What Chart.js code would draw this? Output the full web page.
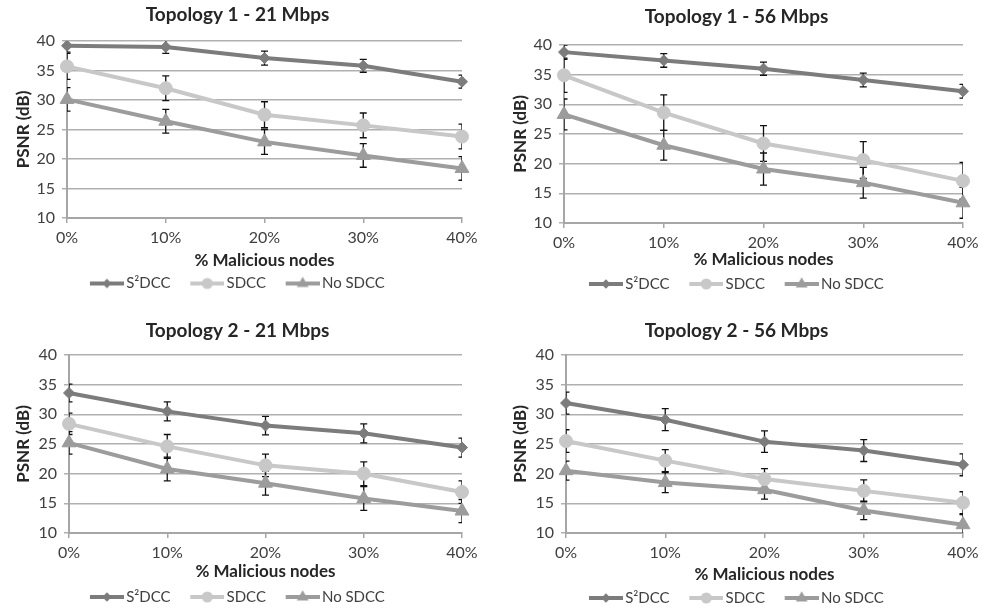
<!DOCTYPE html>
<html>
<head>
<meta charset="utf-8">
<script src="https://cdn.jsdelivr.net/npm/chart.js@4.4.1/dist/chart.umd.min.js"></script>
<style>
    html, body { margin: 0; padding: 0; background: #fff; overflow: hidden; width: 993px; height: 609px; }
    .panel { position: absolute; }
</style>
</head>
<body>
<div class="panel" style="left:0px;top:0px;width:496px;height:304px"><canvas id="c1"></canvas></div>
<div class="panel" style="left:497px;top:0px;width:496px;height:304px"><canvas id="c2"></canvas></div>
<div class="panel" style="left:0px;top:304px;width:496px;height:320px"><canvas id="c3"></canvas></div>
<div class="panel" style="left:497px;top:304px;width:496px;height:320px"><canvas id="c4"></canvas></div>
<script>
const xLabels = ['0%', '10%', '20%', '30%', '40%'];
const seriesNames = ['S²DCC', 'SDCC', 'No SDCC'];

// Topology 1 - 21 Mbps
const t1r21S2dcc = [39.2, 39.0, 37.1, 35.8, 33.1];
const t1r21S2dccErr = [1.1, 1.1, 1.2, 1.1, 1.1];
const t1r21Sdcc = [35.7, 32.0, 27.5, 25.7, 23.8];
const t1r21SdccErr = [2.2, 2.1, 2.2, 2.1, 2.1];
const t1r21NoSdcc = [30.1, 26.4, 22.9, 20.6, 18.4];
const t1r21NoSdccErr = [2.0, 2.0, 2.1, 2.0, 2.0];

// Topology 1 - 56 Mbps
const t1r56S2dcc = [38.8, 37.4, 36.0, 34.1, 32.2];
const t1r56S2dccErr = [1.2, 1.15, 1.1, 1.15, 1.15];
const t1r56Sdcc = [34.9, 28.6, 23.4, 20.6, 17.1];
const t1r56SdccErr = [2.9, 3.0, 3.0, 3.1, 3.1];
const t1r56NoSdcc = [28.3, 23.1, 19.1, 16.8, 13.4];
const t1r56NoSdccErr = [2.6, 2.5, 2.7, 2.6, 2.6];

// Topology 2 - 21 Mbps
const t2r21S2dcc = [33.6, 30.5, 28.1, 26.8, 24.4];
const t2r21S2dccErr = [1.5, 1.6, 1.55, 1.6, 1.6];
const t2r21Sdcc = [28.4, 24.6, 21.4, 20.0, 16.9];
const t2r21SdccErr = [1.8, 2.0, 1.9, 2.0, 1.9];
const t2r21NoSdcc = [25.2, 20.8, 18.4, 15.8, 13.7];
const t2r21NoSdccErr = [1.9, 2.0, 2.0, 2.0, 1.95];

// Topology 2 - 56 Mbps
const t2r56S2dcc = [31.9, 29.1, 25.4, 23.9, 21.5];
const t2r56S2dccErr = [1.85, 1.85, 1.8, 1.85, 1.85];
const t2r56Sdcc = [25.5, 22.2, 19.1, 17.1, 15.1];
const t2r56SdccErr = [1.9, 1.85, 1.75, 1.85, 1.85];
const t2r56NoSdcc = [20.5, 18.5, 17.3, 13.8, 11.4];
const t2r56NoSdccErr = [1.6, 1.7, 1.6, 1.55, 1.7];

const seriesColors = ['#7c7c7c', '#c8c8c8', '#9c9c9c'];
const seriesMarkers = ['rectRot', 'circle', 'triangle'];
const markerSizes = [5.5, 6.5, 8];

Chart.defaults.font.family = "Lato, 'Liberation Sans', sans-serif";

const panels = [
    {
        id: 'c1', title: 'Topology 1 - 21 Mbps',
        values: [t1r21S2dcc, t1r21Sdcc, t1r21NoSdcc],
        errors: [t1r21S2dccErr, t1r21SdccErr, t1r21NoSdccErr],
        frame: { w: 496, h: 304, titleY: 15, top: 41, bottom: 218, left: 67, right: 462, xTitleY: 261, legendY: 283.5 }
    },
    {
        id: 'c2', title: 'Topology 1 - 56 Mbps',
        values: [t1r56S2dcc, t1r56Sdcc, t1r56NoSdcc],
        errors: [t1r56S2dccErr, t1r56SdccErr, t1r56NoSdccErr],
        frame: { w: 496, h: 304, titleY: 17, top: 45, bottom: 223, left: 67, right: 466, xTitleY: 260, legendY: 284 }
    },
    {
        id: 'c3', title: 'Topology 2 - 21 Mbps',
        values: [t2r21S2dcc, t2r21Sdcc, t2r21NoSdcc],
        errors: [t2r21S2dccErr, t2r21SdccErr, t2r21NoSdccErr],
        frame: { w: 496, h: 320, titleY: 27, top: 51, bottom: 229, left: 69, right: 462, xTitleY: 268, legendY: 293 }
    },
    {
        id: 'c4', title: 'Topology 2 - 56 Mbps',
        values: [t2r56S2dcc, t2r56Sdcc, t2r56NoSdcc],
        errors: [t2r56S2dccErr, t2r56SdccErr, t2r56NoSdccErr],
        frame: { w: 496, h: 320, titleY: 27, top: 51, bottom: 229, left: 69, right: 466, xTitleY: 271, legendY: 294 }
    }
];

// legend swatch: line with the marker in the middle, like Excel.
// the canvas is wider than the box so the line runs right up to the label
const legendPad = 20;
const legendBoxWidth = 28.5;
function makeIcon(color, marker, size) {
    const c = document.createElement('canvas');
    c.width = legendBoxWidth + 11;
    c.height = 18;
    const ctx = c.getContext('2d');
    const x1 = c.width - 34, x2 = c.width, cy = 9, cx = (x1 + x2) / 2;
    ctx.strokeStyle = color;
    ctx.fillStyle = color;
    ctx.lineWidth = 4;
    ctx.beginPath();
    ctx.moveTo(x1, cy);
    ctx.lineTo(x2, cy);
    ctx.stroke();
    const r = size * 0.85;
    ctx.beginPath();
    if (marker === 'rectRot') {
        ctx.moveTo(cx, cy - r); ctx.lineTo(cx + r, cy); ctx.lineTo(cx, cy + r); ctx.lineTo(cx - r, cy);
    } else if (marker === 'circle') {
        ctx.arc(cx, cy, r, 0, Math.PI * 2);
    } else {
        ctx.moveTo(cx, cy - r);
        ctx.lineTo(cx + Math.sin(2 * Math.PI / 3) * r, cy + r / 2);
        ctx.lineTo(cx - Math.sin(2 * Math.PI / 3) * r, cy + r / 2);
    }
    ctx.closePath();
    ctx.fill();
    return c;
}
const icons = seriesColors.map((col, i) => makeIcon(col, seriesMarkers[i], markerSizes[i]));

const errorBarPlugin = {
    id: 'errorBars',
    beforeDatasetsDraw(chart) {
        const { ctx, chartArea } = chart;
        const y = chart.scales.y;
        ctx.save();
        ctx.beginPath();
        ctx.rect(chartArea.left, chartArea.top, chartArea.right - chartArea.left, chartArea.bottom - chartArea.top);
        ctx.clip();
        ctx.strokeStyle = '#111';
        ctx.lineWidth = 1.3;
        chart.data.datasets.forEach((ds, i) => {
            const meta = chart.getDatasetMeta(i);
            meta.data.forEach((pt, j) => {
                const v = ds.data[j], e = ds.errors[j];
                const yTop = y.getPixelForValue(v + e);
                const yBot = y.getPixelForValue(v - e);
                ctx.beginPath();
                ctx.moveTo(pt.x, yTop); ctx.lineTo(pt.x, yBot);
                ctx.moveTo(pt.x - 3.5, yTop); ctx.lineTo(pt.x + 3.5, yTop);
                ctx.moveTo(pt.x - 3.5, yBot); ctx.lineTo(pt.x + 3.5, yBot);
                ctx.stroke();
            });
        });
        ctx.restore();
    }
};

function createPanel(p) {
    const f = p.frame;
    const padLeft = 13;
    const titleLine = 19 * 1.2;
    const axisHalfLine = 17 * 1.2 / 2;
    const xBottom = f.legendY - legendPad - 7.5;
    const legendHeight = 15 + legendPad + 10;

    const datasets = p.values.map((vals, i) => ({
        label: seriesNames[i],
        data: vals,
        errors: p.errors[i],
        borderColor: seriesColors[i],
        backgroundColor: seriesColors[i],
        borderWidth: 4,
        pointStyle: seriesMarkers[i],
        pointRadius: markerSizes[i],
        pointBorderWidth: 1,
        pointBackgroundColor: seriesColors[i],
        pointBorderColor: seriesColors[i],
        tension: 0
    }));

    new Chart(document.getElementById(p.id), {
        type: 'line',
        data: { labels: xLabels, datasets: datasets },
        plugins: [errorBarPlugin],
        options: {
            responsive: true,
            maintainAspectRatio: false,
            animation: false,
            layout: {
                padding: { left: padLeft, right: f.w - f.right, top: 0, bottom: f.h - xBottom - legendHeight }
            },
            plugins: {
                title: {
                    display: true,
                    text: p.title,
                    color: '#262626',
                    font: { size: 19, weight: 'bold' },
                    padding: { top: f.titleY - titleLine / 2, bottom: f.top - f.titleY - titleLine / 2 }
                },
                legend: {
                    position: 'bottom',
                    labels: {
                        usePointStyle: true,
                        pointStyleWidth: legendBoxWidth,
                        padding: legendPad,
                        color: '#404040',
                        font: { size: 15 },
                        generateLabels: chart => chart.data.datasets.map((ds, i) => ({
                            text: ds.label,
                            pointStyle: icons[i],
                            fillStyle: 'transparent',
                            strokeStyle: 'transparent',
                            lineWidth: 0,
                            fontColor: '#404040',
                            hidden: false,
                            datasetIndex: i
                        }))
                    }
                },
                tooltip: { enabled: false }
            },
            scales: {
                x: {
                    offset: false,
                    afterFit: scale => { scale.height = xBottom - f.bottom; },
                    grid: { drawOnChartArea: false, drawTicks: true, tickLength: 5, color: '#a6a6a6', lineWidth: 1.5 },
                    border: { color: '#a6a6a6', width: 2 },
                    ticks: { color: '#404040', font: { size: 16 }, padding: 5, maxRotation: 0 },
                    title: {
                        display: true, text: '% Malicious nodes', color: '#262626',
                        font: { size: 17, weight: 'bold' },
                        padding: { top: 0, bottom: xBottom - f.xTitleY - axisHalfLine }
                    }
                },
                y: {
                    min: 10,
                    max: 40,
                    afterFit: scale => { scale.width = f.left - padLeft; },
                    grid: { color: '#b0b0b0', lineWidth: 1.5, tickLength: 5 },
                    border: { color: '#a6a6a6', width: 2 },
                    ticks: { stepSize: 5, color: '#404040', font: { size: 16 }, padding: 7 },
                    title: { display: true, text: 'PSNR (dB)', color: '#262626', font: { size: 17, weight: 'bold' }, padding: 0 }
                }
            }
        }
    });
}

panels.forEach(createPanel);
</script>
</body>
</html>
